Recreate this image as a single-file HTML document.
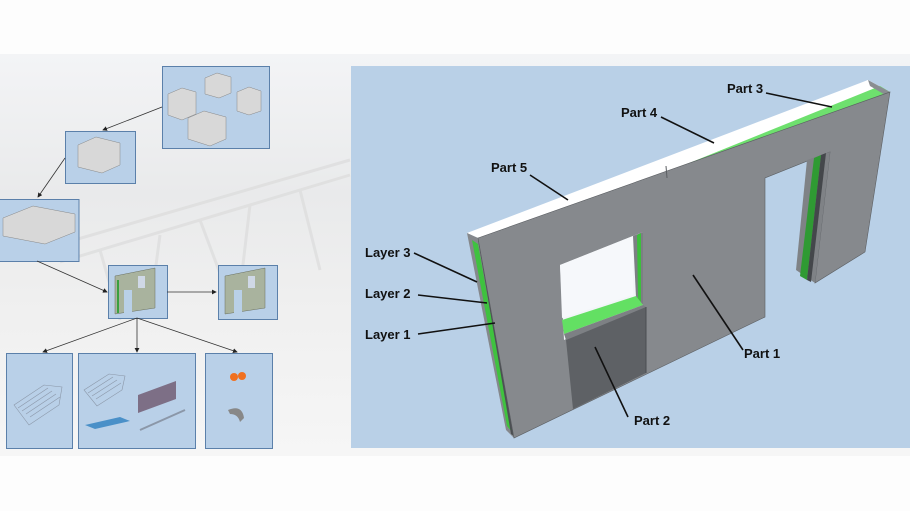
<!DOCTYPE html>
<html><head><meta charset="utf-8"><style>
html,body{margin:0;padding:0;background:#fff;}
svg{display:block;}
text{font-family:"Liberation Sans",Arial,sans-serif;font-weight:bold;font-size:13px;fill:#111;}
</style></head><body>
<svg width="910" height="511" viewBox="0 0 910 511" xmlns="http://www.w3.org/2000/svg">
<defs>
<marker id="ah" markerWidth="6" markerHeight="6" refX="5" refY="3" orient="auto"><path d="M0,0 L6,3 L0,6 z" fill="#222"/></marker>
<linearGradient id="bg" x1="0" y1="0" x2="0" y2="1">
<stop offset="0" stop-color="#f3f4f6"/><stop offset="0.35" stop-color="#e9eaeb"/><stop offset="0.6" stop-color="#efefef"/><stop offset="1" stop-color="#f6f6f6"/></linearGradient>
</defs>
<rect x="0" y="0" width="910" height="511" fill="#fdfdfd"/>
<rect x="0" y="54" width="910" height="402" fill="url(#bg)"/>
<!-- faint truss lines -->
<g stroke="#dcdcdc" stroke-width="3" fill="none" opacity="0.7">
<path d="M40,250 L350,160"/><path d="M60,262 L350,175"/>
<path d="M100,250 L120,320 M160,235 L150,310 M200,220 L230,300 M250,205 L240,290 M300,190 L320,270"/>
</g>
<!-- right panel -->
<rect x="351" y="66" width="559" height="382" fill="#b9d0e7"/>

<!-- left boxes -->
<g fill="#b9d0e8" stroke="#5b80aa" stroke-width="1">
<rect x="162.5" y="66.5" width="107" height="82"/>
<rect x="65.5" y="131.5" width="70" height="52"/>
<rect x="-1" y="199.5" width="80" height="62"/>
<rect x="108.5" y="265.5" width="59" height="53"/>
<rect x="218.5" y="265.5" width="59" height="54"/>
<rect x="6.5" y="353.5" width="66" height="95"/>
<rect x="78.5" y="353.5" width="117" height="95"/>
<rect x="205.5" y="353.5" width="67" height="95"/>
</g>
<!-- box contents -->
<g fill="#d8d8d8" stroke="#888" stroke-width="0.5">
<path d="M168,94 l14,-6 l14,4 v22 l-14,6 l-14,-5z"/>
<path d="M205,78 l12,-5 l14,4 v16 l-12,5 l-14,-4z"/>
<path d="M237,92 l12,-5 l12,4 v20 l-12,4 l-12,-4z"/>
<path d="M188,118 l16,-7 l22,6 v22 l-16,7 l-22,-7z"/>
<path d="M78,145 l18,-8 l24,6 v22 l-18,8 l-24,-6z"/>
<path d="M3,218 l30,-12 l42,8 v18 l-30,12 l-42,-8z"/>
</g>
<g>
<path d="M115,276 l40,-8 v40 l-40,6z" fill="#a9b39e" stroke="#6a7060" stroke-width="0.5"/>
<rect x="117" y="280" width="2" height="33" fill="#3aa040"/>
<rect x="138" y="276" width="7" height="12" fill="#cfd8e6"/>
<rect x="124" y="290" width="8" height="23" fill="#b9d0e8"/>
<path d="M225,276 l40,-8 v40 l-40,6z" fill="#a9b39e" stroke="#6a7060" stroke-width="0.5"/>
<rect x="248" y="276" width="7" height="12" fill="#cfd8e6"/>
<rect x="234" y="290" width="8" height="23" fill="#b9d0e8"/>
</g>
<g stroke="#8b97a8" stroke-width="0.6" fill="none">
<path d="M14,405 l30,-20 l18,2 l-3,18 l-30,20z"/>
<path d="M18,408 l30,-20 M22,411 l30,-20 M26,414 l30,-20 M30,417 l30,-20"/>
<path d="M84,390 l25,-16 l16,2 l-3,14 l-25,16z"/>
<path d="M88,393 l25,-16 M92,396 l25,-16 M96,399 l25,-16"/>
<path d="M140,430 l45,-20" stroke-width="2"/>
</g>
<path d="M138,395 l38,-14 v18 l-38,14z" fill="#7d6f86"/>
<path d="M85,425 l35,-8 l10,4 l-35,8z" fill="#4a90c8"/>
<circle cx="234" cy="377" r="4" fill="#f07020"/><circle cx="242" cy="376" r="4" fill="#f07020"/>
<path d="M228,410 q14,-6 16,8 l-4,4 q-2,-8 -10,-8z" fill="#888"/>
<!-- left arrows -->
<g stroke="#333" stroke-width="0.8" fill="none" marker-end="url(#ah)">
<path d="M162,107 L103,130"/>
<path d="M65,158 L38,197"/>
<path d="M37,261 L107,292"/>
<path d="M167,292 L216,292"/>
<path d="M137,318 L43,352"/>
<path d="M137,318 L137,352"/>
<path d="M137,318 L237,352"/>
</g>

<!-- wall -->
<!-- top surface -->
<polygon points="467,233 868,80 890,92 478,238" fill="#ffffff"/>
<polygon points="667,168 868,80 890,92 667,176" fill="#ffffff"/>
<polygon points="667,172 880,86 890,92 667,180" fill="#6ee06e"/>
<polygon points="868,80 890,92 887,96 870,86" fill="#8a8d91"/>
<polygon points="470,236 478,238 480,248 472,244" fill="#6ee06e"/>
<!-- left side -->
<polygon points="467,233 478,238 514,438 506,430" fill="#85888c"/>
<polygon points="472,240 478,244 512,432 507,426" fill="#3fc23f"/>
<polygon points="478,240 481,242 514,436 511,434" fill="#4c4f53"/>
<!-- front face -->
<polygon points="478,238 890,92 865,252 815,283 830,152 765,178 765,317 514,438" fill="#86898d" stroke="#5b5e62" stroke-width="0.6"/>
<!-- step at part5/4 -->
<line x1="666" y1="166" x2="667" y2="178" stroke="#5b5e62" stroke-width="1"/>
<!-- door reveal -->
<polygon points="807,160 830,152 815,283 796,270" fill="#7f8286"/>
<polygon points="814,158 821,155 807,280 800,276" fill="#2f9a33"/>
<polygon points="821,155 826,153 811,282 807,280" fill="#44474b"/>
<!-- window -->
<polygon points="560,265 643,232 643,305 564,340" fill="#f2f5f8"/>
<polygon points="560,265 633,236 633,295 562,318" fill="#f6f8fb"/>
<polygon points="633,236 643,232 643,305 636,297" fill="#7c7f83"/>
<polygon points="637,235 641,233 641,302 638,299" fill="#3cbf3c"/>
<polygon points="562,320 636,296 643,305 564,334" fill="#63e063"/>
<polygon points="564,334 643,305 646,307 566,340" fill="#7d8084"/>
<!-- part 2 -->
<polygon points="566,340 646,307 646,373 573,409" fill="#5e6165"/>
<line x1="646" y1="307" x2="646" y2="373" stroke="#4a4d51" stroke-width="1"/>
<!-- leader lines -->
<g stroke="#111" stroke-width="1.6" fill="none">
<path d="M766,93 L832,107"/>
<path d="M661,117 L714,143"/>
<path d="M530,175 L568,200"/>
<path d="M414,253 L477,282"/>
<path d="M418,295 L487,303"/>
<path d="M418,334 L495,323"/>
<path d="M693,275 L743,350"/>
<path d="M595,347 L628,417"/>
</g>
<text x="727" y="93">Part 3</text>
<text x="621" y="117">Part 4</text>
<text x="491" y="172">Part 5</text>
<text x="365" y="257">Layer 3</text>
<text x="365" y="298">Layer 2</text>
<text x="365" y="339">Layer 1</text>
<text x="744" y="358">Part 1</text>
<text x="634" y="425">Part 2</text>
</svg>
</body></html>
